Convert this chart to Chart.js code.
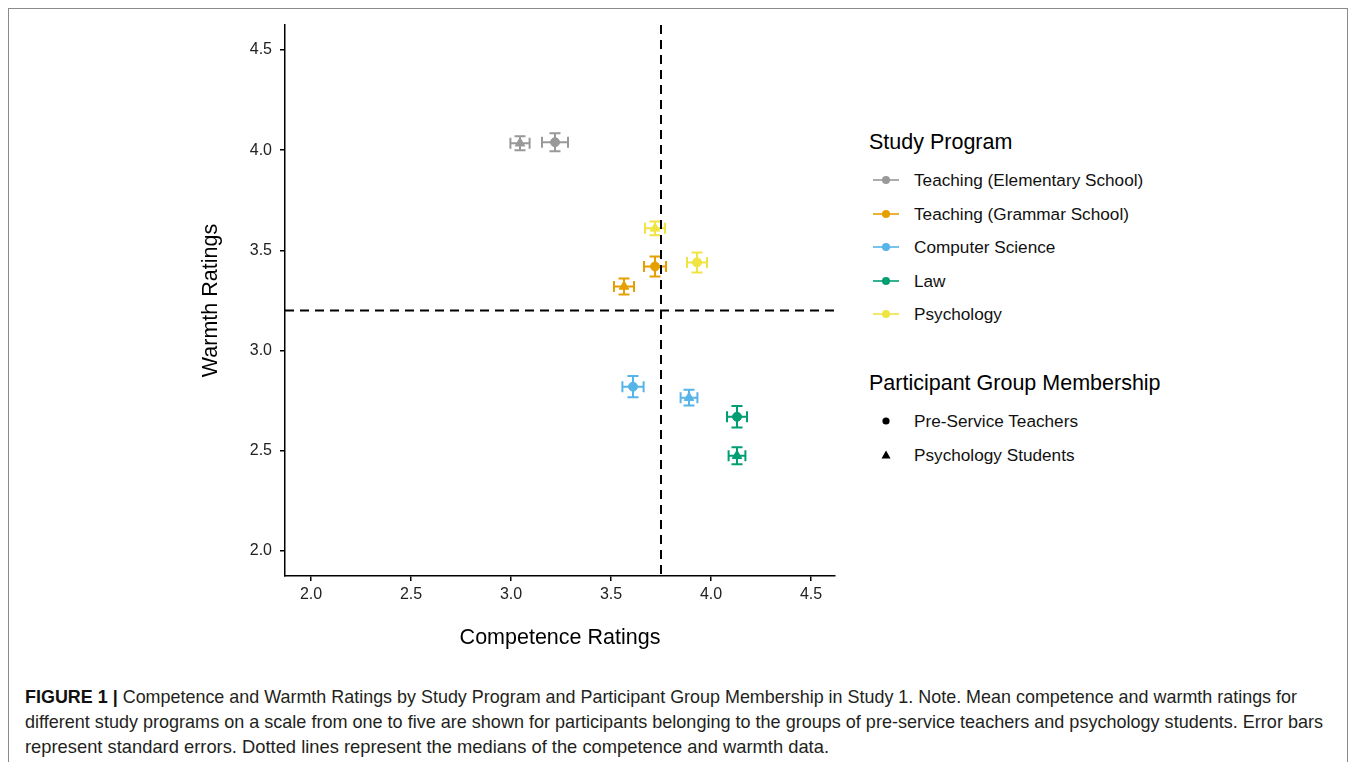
<!DOCTYPE html>
<html>
<head>
<meta charset="utf-8">
<script src="https://cdn.jsdelivr.net/npm/chart.js@4.4.0/dist/chart.umd.min.js"></script>
<style>
  html, body { margin: 0; padding: 0; background: #fff; width: 1355px; height: 762px; overflow: hidden;
    font-family: "Liberation Sans", Arial, Helvetica, sans-serif; color: #111; }
  #frame { position: absolute; left: 8px; top: 8px; width: 1338px; height: 800px; border: 1px solid #8a8a8a; }
  #wrap { position: absolute; left: 0; top: 0; width: 850px; height: 665px; }
  .lg-title { position: absolute; left: 869px; font-size: 21.5px; line-height: 24px; color: #000; white-space: nowrap; }
  .lg-row { position: absolute; left: 870px; height: 34px; line-height: 34px; font-size: 17.2px; color: #111; white-space: nowrap; }
  .lg-row svg { position: absolute; left: 0; top: 0; }
  .lg-row span { position: absolute; left: 44px; top: 0; }
  #caption { position: absolute; left: 25px; top: 684px; font-family: "Liberation Sans", Arial, sans-serif;
    font-size: 19px; line-height: 25px; color: #231f20; white-space: nowrap; }
  #caption div { transform-origin: 0 50%; width: max-content; }
  #caption b { color: #111; }
</style>
</head>
<body>
<div id="frame"></div>
<div id="wrap"><canvas id="chart" width="850" height="665"></canvas></div>
<div id="legend"></div>
<div id="caption">
  <div data-w="1272"><b>FIGURE 1 |</b> Competence and Warmth Ratings by Study Program and Participant Group Membership in Study 1. Note. Mean competence and warmth ratings for</div>
  <div data-w="1298">different study programs on a scale from one to five are shown for participants belonging to the groups of pre-service teachers and psychology students. Error bars</div>
  <div data-w="804">represent standard errors. Dotted lines represent the medians of the competence and warmth data.</div>
</div>
<script>
// Study programs and their colours
const programs = ['Teaching (Elementary School)', 'Teaching (Grammar School)', 'Computer Science', 'Law', 'Psychology'];
const programColors = ['#999999', '#E69F00', '#56B4E9', '#009E73', '#F0E442'];

// Participant groups
const groups = ['Pre-Service Teachers', 'Psychology Students'];
const groupShapes = ['circle', 'triangle'];

// Mean ratings given by pre-service teachers (one value per program)
const teacherCompetence = [3.22, 3.72, 3.61, 4.13, 3.93];
const teacherWarmth     = [4.04, 3.42, 2.82, 2.67, 3.44];
const teacherCompetenceSE = [0.065, 0.055, 0.053, 0.050, 0.050];
const teacherWarmthSE     = [0.045, 0.050, 0.053, 0.054, 0.050];

// Mean ratings given by psychology students (one value per program)
const psychCompetence = [3.045, 3.565, 3.89, 4.13, 3.72];
const psychWarmth     = [4.035, 3.32, 2.765, 2.475, 3.61];
const psychCompetenceSE = [0.048, 0.050, 0.042, 0.042, 0.050];
const psychWarmthSE     = [0.035, 0.040, 0.039, 0.042, 0.034];

// Medians of competence and warmth
const medianCompetence = 3.75;
const medianWarmth = 3.2;

// Axis ticks
const xTicks = [2.0, 2.5, 3.0, 3.5, 4.0, 4.5];
const yTicks = [2.0, 2.5, 3.0, 3.5, 4.0, 4.5];

const groupData = [
  { comp: teacherCompetence, warm: teacherWarmth, compSE: teacherCompetenceSE, warmSE: teacherWarmthSE },
  { comp: psychCompetence, warm: psychWarmth, compSE: psychCompetenceSE, warmSE: psychWarmthSE }
];

const datasets = [];
groupData.forEach((g, gi) => {
  programs.forEach((p, pi) => {
    datasets.push({
      label: p + ' / ' + groups[gi],
      data: [{ x: g.comp[pi], y: g.warm[pi] }],
      errX: [g.compSE[pi]],
      errY: [g.warmSE[pi]],
      backgroundColor: programColors[pi],
      borderColor: programColors[pi],
      borderWidth: 1,
      pointStyle: groupShapes[gi],
      pointRadius: gi === 0 ? 4.5 : 5.5
    });
  });
});

// Error bars with end caps, drawn beneath the points
const errorBars = {
  id: 'errorBars',
  beforeDatasetsDraw(chart) {
    const { ctx, scales: { x, y } } = chart;
    const cap = 5.5;
    ctx.save();
    ctx.lineWidth = 2;
    chart.data.datasets.forEach(ds => {
      ds.data.forEach((pt, i) => {
        const px = x.getPixelForValue(pt.x), py = y.getPixelForValue(pt.y);
        const xl = x.getPixelForValue(pt.x - ds.errX[i]), xr = x.getPixelForValue(pt.x + ds.errX[i]);
        const yb = y.getPixelForValue(pt.y - ds.errY[i]), yt = y.getPixelForValue(pt.y + ds.errY[i]);
        ctx.strokeStyle = ds.borderColor;
        ctx.beginPath();
        ctx.moveTo(xl, py); ctx.lineTo(xr, py);
        ctx.moveTo(xl, py - cap); ctx.lineTo(xl, py + cap);
        ctx.moveTo(xr, py - cap); ctx.lineTo(xr, py + cap);
        ctx.moveTo(px, yt); ctx.lineTo(px, yb);
        ctx.moveTo(px - cap, yt); ctx.lineTo(px + cap, yt);
        ctx.moveTo(px - cap, yb); ctx.lineTo(px + cap, yb);
        ctx.stroke();
      });
    });
    ctx.restore();
  }
};

// Dashed median reference lines
const medianLines = {
  id: 'medianLines',
  afterDatasetsDraw(chart) {
    const { ctx, chartArea: a, scales: { x, y } } = chart;
    const mx = x.getPixelForValue(medianCompetence);
    const my = y.getPixelForValue(medianWarmth);
    ctx.save();
    ctx.strokeStyle = '#000';
    ctx.lineWidth = 2;
    ctx.setLineDash([9, 6]);
    ctx.beginPath();
    ctx.moveTo(mx, a.top); ctx.lineTo(mx, a.bottom);
    ctx.stroke();
    ctx.beginPath();
    ctx.moveTo(a.left, my); ctx.lineTo(a.right, my);
    ctx.stroke();
    ctx.restore();
  }
};

const tickFont = { family: '"Liberation Sans", Arial, sans-serif', size: 16 };
const titleFont = { family: '"Liberation Sans", Arial, sans-serif', size: 21.5 };

new Chart(document.getElementById('chart'), {
  type: 'scatter',
  data: { datasets },
  plugins: [errorBars, medianLines],
  options: {
    responsive: false,
    devicePixelRatio: 1,
    animation: false,
    layout: { padding: { left: 188, top: 25, right: 15, bottom: 0 } },
    plugins: { legend: { display: false }, tooltip: { enabled: false } },
    scales: {
      x: {
        type: 'linear', min: 1.87, max: 4.62,
        afterBuildTicks: s => { s.ticks = xTicks.map(v => ({ value: v })); },
        afterFit: s => { s.height = 89; },
        ticks: { callback: v => v.toFixed(1), color: '#222', font: tickFont, padding: 4, maxRotation: 0 },
        grid: { drawOnChartArea: false, drawTicks: true, tickLength: 5, color: '#000', lineWidth: 1.5 },
        border: { display: true, color: '#000', width: 1.5 },
        title: { display: true, text: 'Competence Ratings', color: '#000', font: titleFont, padding: { top: 0, bottom: 14 } }
      },
      y: {
        type: 'linear', min: 1.875, max: 4.625,
        afterBuildTicks: s => { s.ticks = yTicks.map(v => ({ value: v })); },
        afterFit: s => { s.width = 97; },
        ticks: { callback: v => v.toFixed(1), color: '#222', font: tickFont, padding: 8 },
        grid: { drawOnChartArea: false, drawTicks: true, tickLength: 5, color: '#000', lineWidth: 1.5 },
        border: { display: true, color: '#000', width: 1.5 },
        title: { display: true, text: 'Warmth Ratings', color: '#000', font: titleFont, padding: { top: 10, bottom: 0 } }
      }
    }
  }
});

// Legend: study programs (colour) and participant groups (shape)
const legend = document.getElementById('legend');
function addTitle(text, top) {
  const d = document.createElement('div');
  d.className = 'lg-title'; d.style.top = top + 'px'; d.textContent = text;
  legend.appendChild(d);
}
function addRow(svg, text, top) {
  const d = document.createElement('div');
  d.className = 'lg-row'; d.style.top = top + 'px';
  d.innerHTML = svg + '<span></span>';
  d.querySelector('span').textContent = text;
  legend.appendChild(d);
}
addTitle('Study Program', 130);
programs.forEach((p, i) => {
  const c = programColors[i];
  addRow('<svg width="32" height="34"><line x1="3" y1="17" x2="29" y2="17" stroke="' + c + '" stroke-width="1.6"/><circle cx="16" cy="17" r="4" fill="' + c + '"/></svg>', p, 163 + i * 33.5);
});
addTitle('Participant Group Membership', 371);
groups.forEach((g, i) => {
  const mark = groupShapes[i] === 'circle'
    ? '<circle cx="16" cy="17" r="3.6" fill="#000"/>'
    : '<polygon points="16,12.5 20.5,20.5 11.5,20.5" fill="#000"/>';
  addRow('<svg width="32" height="34">' + mark + '</svg>', g, 404 + i * 34);
});

// Caption lines are set in a condensed width
document.querySelectorAll('#caption div').forEach(line => {
  const target = +line.dataset.w;
  const w = line.getBoundingClientRect().width;
  if (w > 0) line.style.transform = 'scaleX(' + (target / w) + ')';
});
</script>
</body>
</html>
